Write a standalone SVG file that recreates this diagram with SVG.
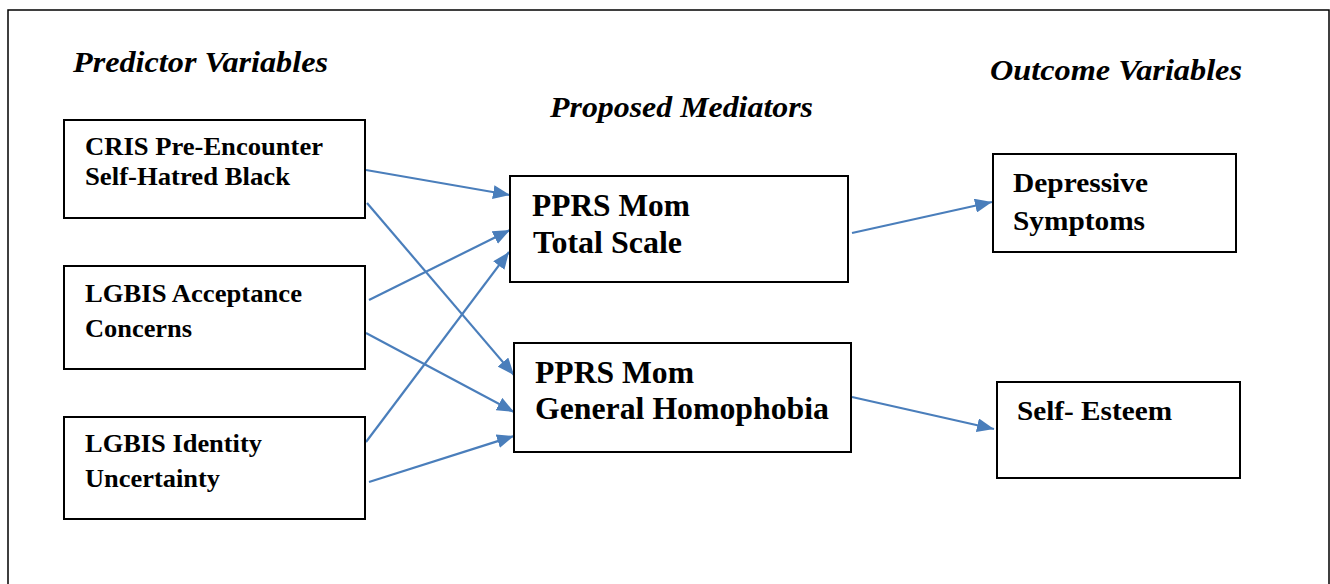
<svg xmlns="http://www.w3.org/2000/svg" width="1330" height="584" viewBox="0 0 1330 584">
<style>
.box{fill:#fff;stroke:#000;stroke-width:2}
.frame{fill:none;stroke:#000;stroke-width:1.5}
text{font-family:"Liberation Serif","Times New Roman",serif;font-weight:bold;fill:#000}
.hdr{font-style:italic;font-size:30px}
.lbl{font-size:25px}
.out{font-size:28px}
.big{font-size:31px}
.con{stroke:#4a7ebb;stroke-width:2.2;fill:none;marker-end:url(#ah)}
</style>
<defs>
<marker id="ah" markerUnits="userSpaceOnUse" markerWidth="18" markerHeight="14" refX="17" refY="7" orient="auto">
<path d="M0,0 L17,7 L0,14 Z" fill="#4a7ebb"/>
</marker>
</defs>
<rect width="1330" height="584" fill="#fff"/>
<path class="frame" d="M8,600 L8,10 L1329,10 L1329,600"/>
<text class="hdr" x="73" y="72" textLength="255" lengthAdjust="spacingAndGlyphs">Predictor Variables</text>
<text class="hdr" x="550" y="117" textLength="263" lengthAdjust="spacingAndGlyphs">Proposed Mediators</text>
<text class="hdr" x="990" y="80" textLength="252" lengthAdjust="spacingAndGlyphs">Outcome Variables</text>
<g id="connectors">
<line class="con" x1="366" y1="170" x2="510" y2="195"/>
<line class="con" x1="367" y1="203" x2="514" y2="375"/>
<line class="con" x1="369" y1="300" x2="510" y2="230"/>
<line class="con" x1="366" y1="333" x2="514" y2="412"/>
<line class="con" x1="366" y1="442" x2="509" y2="252"/>
<line class="con" x1="369" y1="482" x2="514" y2="436"/>
<line class="con" x1="852" y1="233" x2="992" y2="202"/>
<line class="con" x1="852" y1="397" x2="994" y2="429"/>
</g>
<g id="cris">
<rect class="box" x="64" y="120" width="301" height="98"/>
<text class="lbl" x="85" y="155" textLength="238" lengthAdjust="spacingAndGlyphs">CRIS Pre-Encounter</text>
<text class="lbl" x="85" y="185" textLength="205" lengthAdjust="spacingAndGlyphs">Self-Hatred Black</text>
</g>
<g id="lgbis-acceptance">
<rect class="box" x="64" y="266" width="301" height="103"/>
<text class="lbl" x="85" y="302" textLength="217" lengthAdjust="spacingAndGlyphs">LGBIS Acceptance</text>
<text class="lbl" x="85" y="337" textLength="107" lengthAdjust="spacingAndGlyphs">Concerns</text>
</g>
<g id="lgbis-identity">
<rect class="box" x="64" y="417" width="301" height="102"/>
<text class="lbl" x="85" y="452" textLength="177" lengthAdjust="spacingAndGlyphs">LGBIS Identity</text>
<text class="lbl" x="85" y="487" textLength="135" lengthAdjust="spacingAndGlyphs">Uncertainty</text>
</g>
<g id="pprs-total">
<rect class="box" x="510" y="176" width="338" height="106"/>
<text class="big" x="532" y="216" textLength="158" lengthAdjust="spacingAndGlyphs">PPRS Mom</text>
<text class="big" x="533" y="253" textLength="149" lengthAdjust="spacingAndGlyphs">Total Scale</text>
</g>
<g id="pprs-general">
<rect class="box" x="514" y="343" width="337" height="109"/>
<text class="big" x="535" y="383" textLength="159" lengthAdjust="spacingAndGlyphs">PPRS Mom</text>
<text class="big" x="535" y="419" textLength="294" lengthAdjust="spacingAndGlyphs">General Homophobia</text>
</g>
<g id="depressive">
<rect class="box" x="993" y="154" width="243" height="98"/>
<text class="out" x="1013" y="192" textLength="135" lengthAdjust="spacingAndGlyphs">Depressive</text>
<text class="out" x="1013" y="230" textLength="132" lengthAdjust="spacingAndGlyphs">Symptoms</text>
</g>
<g id="self-esteem">
<rect class="box" x="997" y="382" width="243" height="96"/>
<text class="out" x="1017" y="420" textLength="155" lengthAdjust="spacingAndGlyphs">Self- Esteem</text>
</g>
</svg>
